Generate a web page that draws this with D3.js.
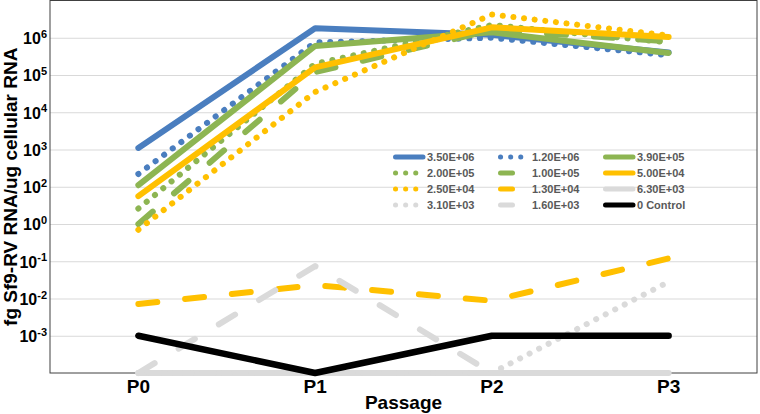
<!DOCTYPE html>
<html>
<head>
<meta charset="utf-8">
<script src="https://cdn.jsdelivr.net/npm/d3@7"></script>
<style>
  html, body { margin: 0; padding: 0; background: #fff; }
  svg { display: block; font-family: "Liberation Sans", Arial, sans-serif; }
</style>
</head>
<body>
<svg id="chart" width="760" height="414"></svg>
<script>
// ---------------- data ----------------
const passages = ["P0", "P1", "P2", "P3"];
const seriesNames = ["3.50E+06", "1.20E+06", "3.90E+05", "2.00E+05", "1.00E+05", "5.00E+04",
                     "2.50E+04", "1.30E+04", "6.30E+03", "3.10E+03", "1.60E+03", "0 Control"];
const s35e6 = [1.1e3, 1.8e6, 1.2e6, 4.0e5];
const s12e6 = [2.2e2, 7.5e5, 1.0e6, 3.4e5];
const s39e5 = [1.1e2, 6.0e5, 1.4e6, 3.9e5];
const s20e5 = [26, 2.0e5, 2.2e6, 7.5e5];
const s10e5 = [10, 1.2e5, 1.6e6, 8.0e5];
const s50e4 = [56, 1.6e5, 1.9e6, 1.05e6];
const s25e4 = [7, 3.5e4, 4.2e6, 1.15e6];
const s13e4 = [0.071, 0.23, 0.087, 1.19];
const s63e3 = [1e-3, 1e-3, 1e-3, 1e-3];
const s31e3 = [1e-3, 1e-3, 1e-3, 0.28];
const s16e3 = [1e-3, 0.74, 1e-3, 1e-3];
const sCtrl = [0.01, 1e-3, 0.01, 0.01];
const seriesValues = [s35e6, s12e6, s39e5, s20e5, s10e5, s50e4, s25e4, s13e4, s63e3, s31e3, s16e3, sCtrl];
const seriesColors = ["#4a7ebf", "#4a7ebf", "#8db552", "#8db552", "#8db552", "#ffc000",
                      "#ffc000", "#ffc000", "#dadada", "#dadada", "#dadada", "#000000"];
const seriesStyles = ["solid", "dot", "solid", "dot", "dash", "solid",
                      "dot", "dash", "solid", "dot", "dash", "solid"];
const tickValues = [1e6, 1e5, 1e4, 1e3, 1e2, 1e1, 1e0, 1e-1, 1e-2];
const tickExponents = ["6", "5", "4", "3", "2", "0", "-1", "-2", "-3"];
const yTitle = "fg Sf9-RV RNA/ug cellular RNA";
const xTitle = "Passage";

// ---------------- layout ----------------
const svg = d3.select("#chart");
const L = 50, R = 757, T = 0.5, B = 373;

const x = d3.scaleBand().domain(passages).range([L, R]);
const xc = d => x(d) + x.bandwidth() / 2;
const y = d3.scaleLog().domain([1e-3, 1e7]).range([B, T]);

const dashes = { solid: null, dot: "0.1,10.6", dash: "19,28" };
const legendDashes = { solid: null, dot: "0.1,10", dash: "12,40" };

// gridlines
svg.append("g")
  .attr("transform", `translate(${L},0)`)
  .call(d3.axisLeft(y).tickValues(tickValues).tickSize(-(R - L)).tickFormat(""))
  .call(g => g.select(".domain").remove())
  .call(g => g.selectAll("line").attr("stroke", "#d9d9d9").attr("stroke-width", 1));

// y axis labels
const yAxis = svg.append("g")
  .attr("transform", `translate(${L},0)`)
  .call(d3.axisLeft(y).tickValues(tickValues).tickSize(0).tickPadding(4).tickFormat(""))
  .call(g => g.select(".domain").remove());
yAxis.selectAll(".tick text").each(function (d, i) {
  const t = d3.select(this)
    .attr("fill", "#000")
    .attr("font-weight", "bold")
    .attr("font-size", 16)
    .attr("dy", "0.36em")
    .attr("x", -3)
    .attr("text-anchor", "end");
  t.append("tspan").text("10");
  t.append("tspan").attr("font-size", 11).attr("dy", "-0.55em").text(tickExponents[i]);
});

// x axis labels
svg.append("g")
  .attr("transform", `translate(0,${B})`)
  .call(d3.axisBottom(x).tickSize(0).tickPadding(6))
  .call(g => g.select(".domain").remove())
  .call(g => g.selectAll("text")
    .attr("fill", "#000").attr("font-weight", "bold").attr("font-size", 19)
    .attr("dy", "0.75em"));

// frame
svg.append("rect")
  .attr("x", L).attr("y", T).attr("width", R - L).attr("height", B - T)
  .attr("fill", "none").attr("stroke", "#404040").attr("stroke-width", 1);

// lines
const line = d3.line().x((d, i) => xc(passages[i])).y(d => y(d));
seriesValues.forEach((vals, i) => {
  svg.append("path")
    .datum(vals)
    .attr("d", line)
    .attr("fill", "none")
    .attr("stroke", seriesColors[i])
    .attr("stroke-width", i === 11 ? 6.5 : 6)
    .attr("stroke-linecap", "round")
    .attr("stroke-linejoin", "round")
    .attr("stroke-dasharray", dashes[seriesStyles[i]]);
});

// legend
const legX = [393, 498, 603];
const legY = [157, 173, 189, 205];
const leg = svg.append("g");
seriesNames.forEach((name, i) => {
  const col = i % 3, row = Math.floor(i / 3);
  const lx = legX[col], ly = legY[row];
  const st = seriesStyles[i];
  leg.append("line")
    .attr("x1", lx + 2.5).attr("x2", lx + 30).attr("y1", ly).attr("y2", ly)
    .attr("stroke", seriesColors[i])
    .attr("stroke-width", st === "dot" ? 5 : 5)
    .attr("stroke-linecap", "round")
    .attr("stroke-dasharray", legendDashes[st]);
  leg.append("text")
    .attr("x", lx + 34).attr("y", ly).attr("dy", "0.36em")
    .attr("fill", "#595959").attr("font-weight", "bold").attr("font-size", 11)
    .text(name);
});

// titles
svg.append("text")
  .attr("transform", `translate(17,${(T + B) / 2}) rotate(-90)`)
  .attr("text-anchor", "middle")
  .attr("font-weight", "bold").attr("font-size", 19)
  .text(yTitle);
svg.append("text")
  .attr("x", (L + R) / 2).attr("y", 409)
  .attr("text-anchor", "middle")
  .attr("font-weight", "bold").attr("font-size", 19)
  .text(xTitle);
</script>
</body>
</html>
